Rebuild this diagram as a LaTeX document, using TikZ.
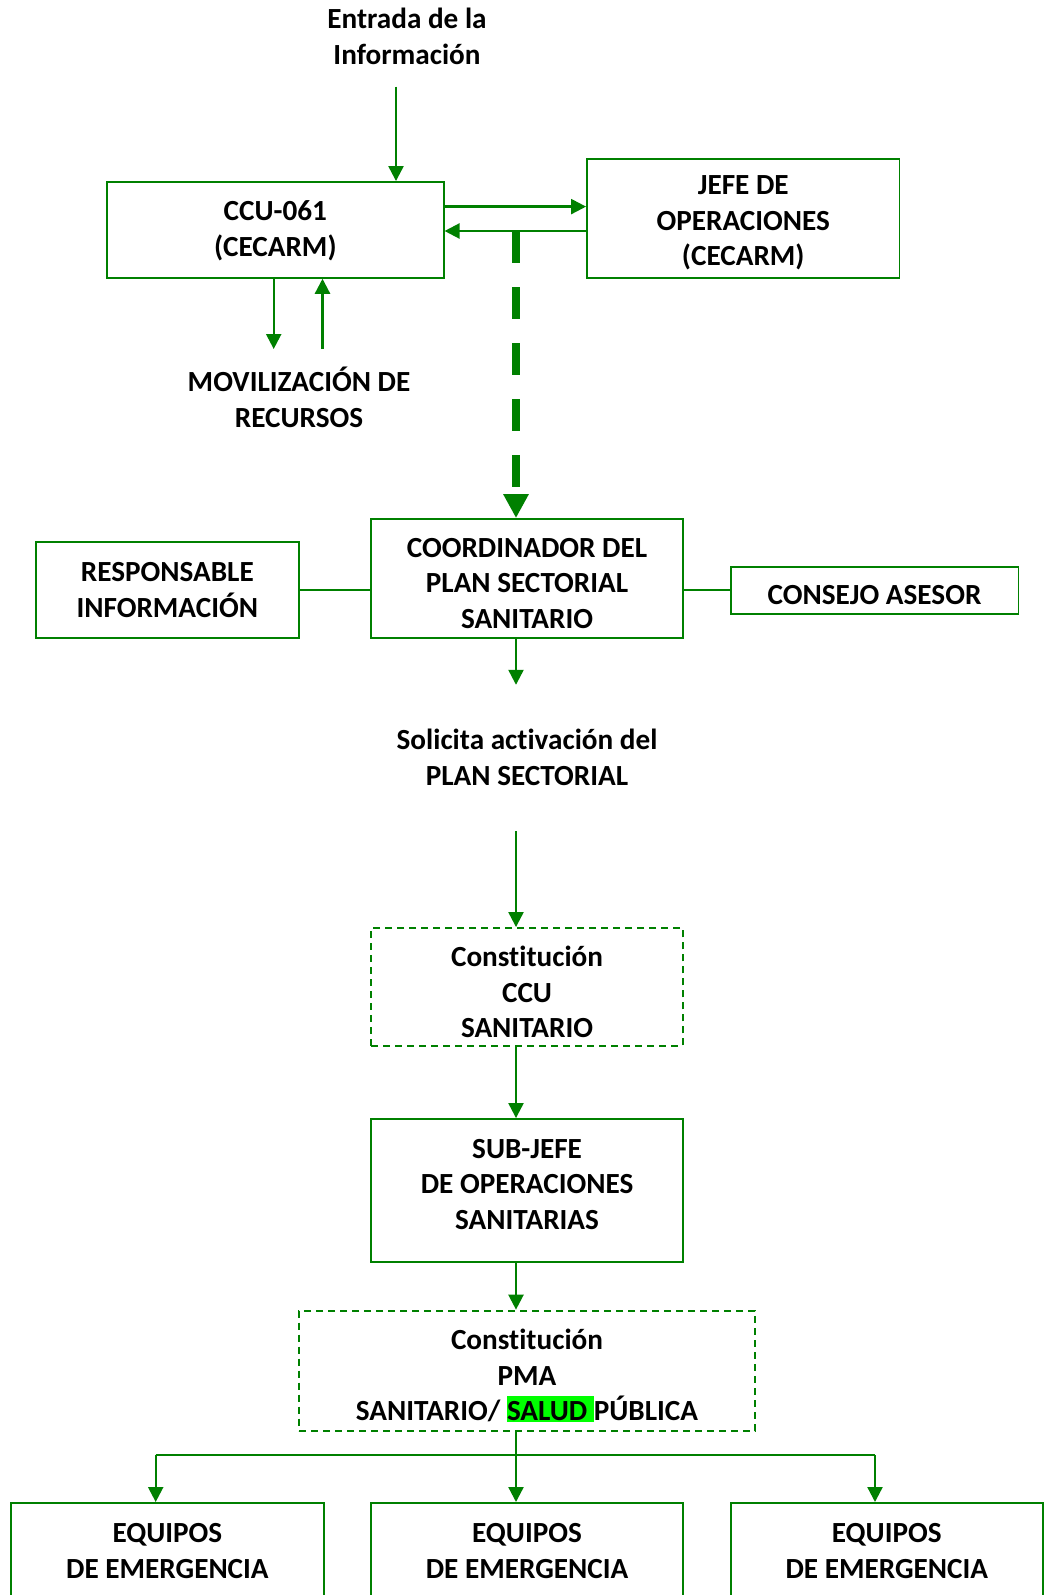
\documentclass[tikz,border=0pt]{standalone}
\usepackage{fontspec}
\setmainfont{Carlito}[Ligatures=NoCommon]
\usetikzlibrary{arrows.meta}
\definecolor{grn}{RGB}{0,128,0}
\definecolor{hl}{RGB}{0,255,0}
\newcommand\hlbox[1]{{\setlength{\fboxsep}{0pt}\colorbox{hl}{\rule[-1pt]{0pt}{26pt}#1}}}
\begin{document}
\begin{tikzpicture}[x=1pt,y=-1pt,
  txt/.style={font=\fontsize{29.2}{35.6}\selectfont\bfseries, align=center, inner sep=0pt},
  box/.style={draw=grn, line width=1.9pt, inner sep=0pt},
  dbox/.style={box, dash pattern=on 7pt off 5pt},
  arr/.style={draw=grn, line width=2.3pt, -{Triangle[length=15pt,width=15pt]}},
  link/.style={draw=grn, line width=2.1pt},
  bigdash/.style={draw=grn, line width=8pt, dash pattern=on 31.5pt off 24.5pt, -{Triangle[length=24pt,width=24pt]}}]
\fill[white] (0,0) rectangle (1045,1595);
\useasboundingbox (0,0) rectangle (1045,1595);

% top section
\node[txt] (entrada) at (407,36.6) {Entrada de la\\Información};
\node[box, minimum width=336.6pt, minimum height=95.8pt,
      label={[txt,yshift=-1pt]center:{CCU-061\\(CECARM)}}] (ccu) at (275.3,229.9) {};
\node[box, minimum width=312.5pt, minimum height=119.1pt,
      label={[txt,yshift=-4.5pt]center:{JEFE DE\\OPERACIONES\\(CECARM)}}] (jefe) at (743.25,218.25) {};
\node[txt] (movil) at (299,397.3) {MOVILIZACIÓN DE\\RECURSOS};

% coordinator row
\node[box, minimum width=311.3pt, minimum height=119pt,
      label={[txt,yshift=-5pt]center:{COORDINADOR DEL\\PLAN SECTORIAL\\SANITARIO}}] (coord) at (527.05,578.5) {};
\node[box, minimum width=263.4pt, minimum height=96pt,
      label={[txt]center:{RESPONSABLE\\INFORMACIÓN}}] (resp) at (167.3,590) {};
\node[box, minimum width=287.9pt, minimum height=46.9pt,
      label={[txt,yshift=-5pt]center:{CONSEJO ASESOR}}] (consejo) at (874.55,590.15) {};
\node[txt] (solicita) at (527,757.5) {Solicita activación del\\PLAN SECTORIAL};

% lower chain
\node[dbox, minimum width=311.3pt, minimum height=118pt,
      label={[txt,yshift=-5pt]center:{Constitución\\CCU\\SANITARIO}}] (ccus) at (527.05,987) {};
\node[box, minimum width=311.3pt, minimum height=142.7pt,
      label={[txt,yshift=6pt]center:{SUB-JEFE\\DE OPERACIONES\\SANITARIAS}}] (subjefe) at (527.05,1190.35) {};
\node[dbox, minimum width=456pt, minimum height=120pt,
      label={[txt,yshift=-5pt]center:{Constitución\\PMA\\SANITARIO/ \hlbox{SALUD }PÚBLICA}}] (pma) at (527,1370.6) {};

% emergency teams
\node[box, anchor=north, minimum width=312.4pt, minimum height=96pt,
      label={[txt]center:{EQUIPOS\\DE EMERGENCIA}}] (eq1) at (167.4,1502) {};
\node[box, anchor=north, minimum width=311.3pt, minimum height=96pt,
      label={[txt]center:{EQUIPOS\\DE EMERGENCIA}}] (eq2) at (527.05,1502) {};
\node[box, anchor=north, minimum width=312.4pt, minimum height=96pt,
      label={[txt]center:{EQUIPOS\\DE EMERGENCIA}}] (eq3) at (886.8,1502) {};

% connectors
\coordinate (inS) at (396,86.5);
\draw[arr] (inS) -- (inS |- ccu.north);
\coordinate (yR) at (0,206.6);
\coordinate (yL) at (0,231);
\draw[arr] (ccu.east |- yR) -- (jefe.west |- yR);
\draw[arr] (jefe.west |- yL) -- (ccu.east |- yL);
\coordinate (dashS) at (516,231);
\draw[bigdash] (dashS) -- (dashS |- coord.north);
\coordinate (movD) at (273.7,349);
\coordinate (movU) at (322.5,349);
\draw[arr] (movD |- ccu.south) -- (movD);
\draw[arr] (movU) -- (movU |- ccu.south);
\draw[link] (resp.east) -- (coord.west |- resp.east);
\draw[link] (coord.east |- consejo.west) -- (consejo.west);
\coordinate (solT) at (516,684.8);
\draw[arr] (solT |- coord.south) -- (solT);
\coordinate (solB) at (516,831);
\draw[arr] (solB) -- (solB |- ccus.north);
\draw[arr] (solB |- ccus.south) -- (solB |- subjefe.north);
\draw[arr] (solB |- subjefe.south) -- (solB |- pma.north);
\draw[arr] (solB |- pma.south) -- (solB |- eq2.north);
\coordinate (brL) at (155.7,1455);
\coordinate (brR) at (875,1455);
\draw[link] (brL) -- (brR);
\draw[arr] (brL) -- (brL |- eq1.north);
\draw[arr] (brR) -- (brR |- eq3.north);
\end{tikzpicture}
\end{document}
